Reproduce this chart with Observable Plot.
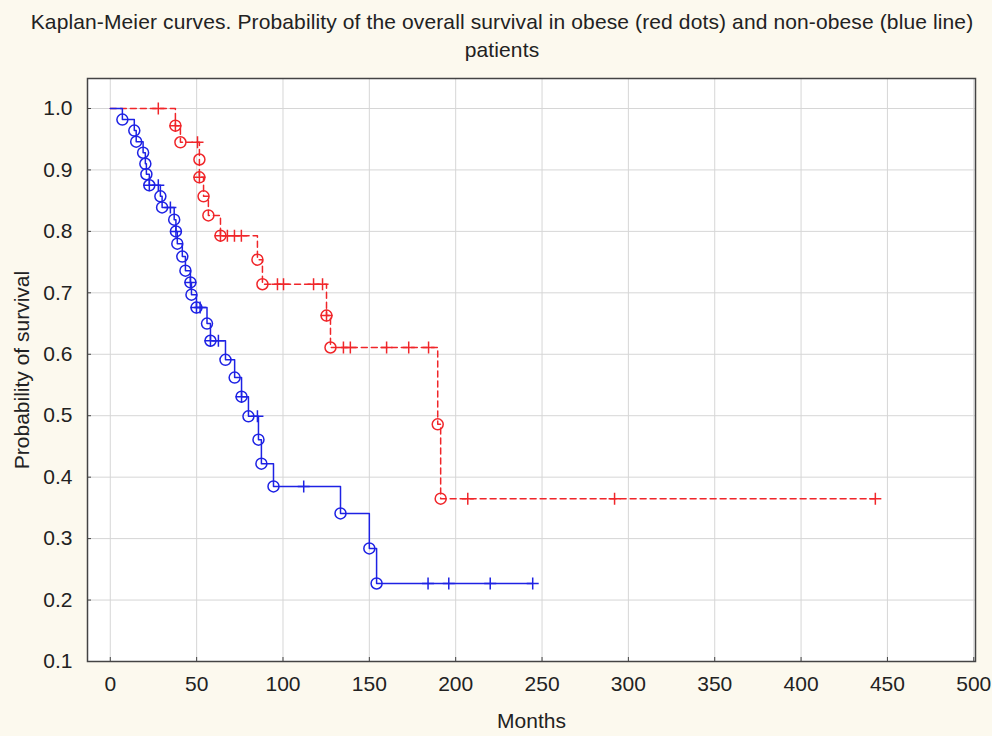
<!DOCTYPE html>
<html><head><meta charset="utf-8">
<script src="https://cdn.jsdelivr.net/npm/d3@7"></script>
<script src="https://cdn.jsdelivr.net/npm/@observablehq/plot@0.6"></script>
<style>
body{margin:0;background:#fcf9ee;font-family:"Liberation Sans",Arial,sans-serif;}
#title{height:68px;box-sizing:border-box;padding-top:8px;padding-left:12px;text-align:center;font-size:21px;letter-spacing:0.12px;line-height:28px;color:#222;white-space:nowrap;}
#chart svg{display:block;}
</style></head><body>
<div id="title">Kaplan-Meier curves. Probability of the overall survival in obese (red dots) and non-obese (blue line)<br>patients</div>
<div id="chart"></div>
<script>
// Non-obese (blue line): event times / survival after event
const blueEventT = [7,13.9,15,19,20.3,20.9,22.6,29,30,37,38,38.8,41.7,43.5,46.4,47,49.9,56,58,66.7,72,76,80,85.8,87.5,94.5,133.3,150,154.2];
const blueEventS = [0.982,0.964,0.946,0.928,0.910,0.893,0.875,0.857,0.839,0.819,0.800,0.780,0.759,0.736,0.717,0.697,0.676,0.650,0.622,0.591,0.562,0.531,0.499,0.461,0.422,0.385,0.341,0.284,0.227];
// Non-obese censored observations
const blueCensT = [22.6,27.8,34.8,38,46.4,49.9,52,58,62.6,76,85.2,112,184,196,220,244.6];
const blueCensS = [0.875,0.875,0.839,0.800,0.717,0.676,0.676,0.622,0.622,0.531,0.499,0.385,0.227,0.227,0.227,0.227];
// Obese (red dots): event times / survival after event
const redEventT = [37.7,40.6,51.6,51.6,54,56.8,63.8,85.2,88.1,125.2,127.5,189.6,191.3];
const redEventS = [0.972,0.945,0.917,0.888,0.857,0.826,0.793,0.754,0.714,0.663,0.611,0.486,0.365];
// Obese censored observations
const redCensT = [27.8,37.7,50.5,51.6,63.8,67.8,71.9,75.9,96.8,100.3,117.7,122.9,125.2,135,139,160,172.8,184.3,207,292,443];
const redCensS = [1.0,0.972,0.945,0.888,0.793,0.793,0.793,0.793,0.714,0.714,0.714,0.714,0.663,0.611,0.611,0.611,0.611,0.611,0.365,0.365,0.365];
// Axis ticks
const xTicks = [0,50,100,150,200,250,300,350,400,450,500];
const yTicks = [0.1,0.2,0.3,0.4,0.5,0.6,0.7,0.8,0.9,1.0];

const RED = "#f0262a", BLUE = "#1e22e4";
const stepPts = (T,S,endT) => [{t:0,s:1}, ...T.map((t,i)=>({t,s:S[i]})), {t:endT, s:S[S.length-1]}];
const pts = (T,S) => T.map((t,i)=>({t,s:S[i]}));
const blueLine = stepPts(blueEventT, blueEventS, blueCensT[blueCensT.length-1]);
const redLine = stepPts(redEventT, redEventS, redCensT[redCensT.length-1]);
const plusSym = {draw(ctx,size){const r=Math.sqrt(size/Math.PI);ctx.moveTo(-r,0);ctx.lineTo(r,0);ctx.moveTo(0,-r);ctx.lineTo(0,r);}};

const chart = Plot.plot({
  width:992, height:668,
  marginLeft:87, marginRight:17, marginTop:10, marginBottom:75,
  style:{background:"transparent", fontFamily:"Liberation Sans, Arial, sans-serif", fontSize:"21px", color:"#222"},
  x:{domain:[-13.2,501]},
  y:{domain:[0.1,1.0488]},
  marks:[
    Plot.frame({fill:"white", stroke:null}),
    Plot.gridX(xTicks,{stroke:"#d6d6d6", strokeOpacity:1}),
    Plot.gridY(yTicks,{stroke:"#d6d6d6", strokeOpacity:1}),
    Plot.axisX(xTicks,{tickSize:-4, tickPadding:19, stroke:"#444", fontSize:21, label:"Months", labelAnchor:"center", labelArrow:"none", labelOffset:66}),
    Plot.axisY(yTicks,{tickSize:-4, tickPadding:19, stroke:"#444", fontSize:21, tickFormat:d=>d.toFixed(1), label:"Probability of survival", labelAnchor:"center", labelArrow:"none", labelOffset:73}),
    Plot.line(redLine,{x:"t", y:"s", curve:"step-after", stroke:RED, strokeWidth:1.5, strokeDasharray:"6,4"}),
    Plot.line(blueLine,{x:"t", y:"s", curve:"step-after", stroke:BLUE, strokeWidth:1.5}),
    Plot.dot(pts(redEventT,redEventS),{x:"t", y:"s", r:5.5, stroke:RED, strokeWidth:1.5, fill:"none"}),
    Plot.dot(pts(blueEventT,blueEventS),{x:"t", y:"s", r:5.5, stroke:BLUE, strokeWidth:1.5, fill:"none"}),
    Plot.dot(pts(redCensT,redCensS),{x:"t", y:"s", r:6, symbol:plusSym, stroke:RED, strokeWidth:1.5, fill:"none"}),
    Plot.dot(pts(blueCensT,blueCensS),{x:"t", y:"s", r:6, symbol:plusSym, stroke:BLUE, strokeWidth:1.5, fill:"none"}),
    Plot.frame({stroke:"#444", strokeWidth:1.5})
  ]
});
document.getElementById("chart").appendChild(chart);
</script></body></html>
